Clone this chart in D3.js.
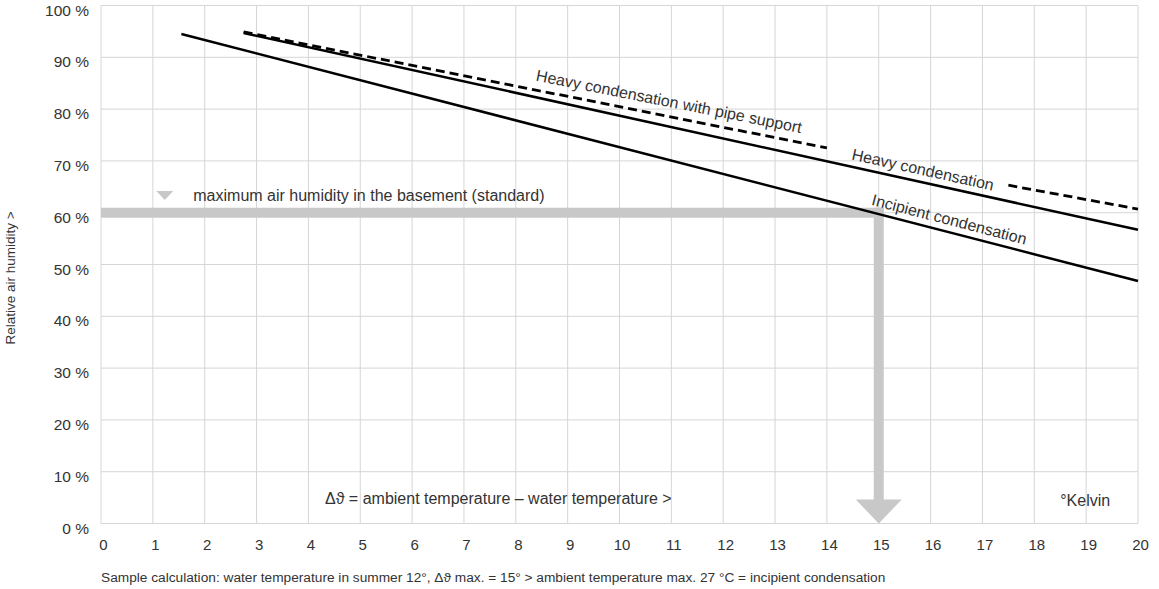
<!DOCTYPE html>
<html>
<head>
<meta charset="utf-8">
<script src="https://cdn.jsdelivr.net/npm/d3@7"></script>
<style>
  body { margin: 0; background: #fff; }
  svg text { font-family: "Liberation Sans", Arial, sans-serif; fill: #333; }
  .grid line { stroke: #d6d6d6; stroke-width: 1; }
</style>
</head>
<body>
<svg id="chart" width="1159" height="589"></svg>
<script>
// x ticks (Kelvin difference) and y ticks (relative humidity %)
var xTicks = d3.range(0, 21);
var yTicks = [0, 10, 20, 30, 40, 50, 60, 70, 80, 90, 100];

// lines: [delta T, humidity %]
var incipient = [[1.55, 94.5], [20, 46.8]];
var heavy = [[2.75, 94.7], [20, 56.7]];
var pipeSupport1 = [[2.75, 94.9], [14, 72.5]];
var pipeSupport2 = [[17.5, 65.3], [20, 60.7]];

// standard max humidity band and the resulting temperature difference
var standardHumidity = 60;
var sampleDelta = 15;

var svg = d3.select("#chart"),
    margin = {top: 5.5, right: 21, bottom: 65.5, left: 101},
    width = +svg.attr("width") - margin.left - margin.right,
    height = +svg.attr("height") - margin.top - margin.bottom;

var x = d3.scaleLinear().domain([0, 20]).range([0, width]),
    y = d3.scaleLinear().domain([0, 100]).range([height, 0]);

var g = svg.append("g")
    .attr("transform", "translate(" + margin.left + "," + margin.top + ")");

// grid
var grid = g.append("g").attr("class", "grid");
grid.selectAll(".v").data(xTicks).enter().append("line")
    .attr("x1", function(d) { return x(d); })
    .attr("x2", function(d) { return x(d); })
    .attr("y1", 0).attr("y2", height);
grid.selectAll(".h").data(yTicks).enter().append("line")
    .attr("y1", function(d) { return y(d); })
    .attr("y2", function(d) { return y(d); })
    .attr("x1", 0).attr("x2", width);

// axis labels
var xAxis = g.append("g")
    .attr("transform", "translate(0," + height + ")")
    .call(d3.axisBottom(x).tickValues(xTicks).tickSize(0).tickPadding(16));
xAxis.select(".domain").remove();
xAxis.selectAll("text").style("font-size", "15px").attr("fill", "#333")
    .attr("dx", 2);

var yAxis = g.append("g")
    .call(d3.axisLeft(y).tickValues(yTicks).tickSize(0).tickPadding(12)
      .tickFormat(function(d) { return d + " %"; }));
yAxis.select(".domain").remove();
yAxis.selectAll("text").style("font-size", "15.5px").attr("fill", "#333")
    .attr("dy", "0.62em");

// grey band: standard humidity -> arrow down to delta T
var bandColor = "#c8c8c8";
g.append("line")
    .attr("x1", x(0)).attr("x2", x(sampleDelta) + 5)
    .attr("y1", y(standardHumidity)).attr("y2", y(standardHumidity))
    .attr("stroke", bandColor).attr("stroke-width", 10);
g.append("line")
    .attr("x1", x(sampleDelta)).attr("x2", x(sampleDelta))
    .attr("y1", y(standardHumidity) - 5).attr("y2", y(0) - 22)
    .attr("stroke", bandColor).attr("stroke-width", 10);
g.append("path")
    .attr("d", "M" + (x(sampleDelta) - 23) + "," + (y(0) - 24) +
               "L" + (x(sampleDelta) + 23) + "," + (y(0) - 24) +
               "L" + x(sampleDelta) + "," + y(0) + "Z")
    .attr("fill", bandColor);

// legend marker for the band
g.append("path")
    .attr("d", "M" + (x(1.23) - 8.5) + "," + (y(63.3) - 4.5) +
               "L" + (x(1.23) + 8.5) + "," + (y(63.3) - 4.5) +
               "L" + x(1.23) + "," + (y(63.3) + 4.5) + "Z")
    .attr("fill", bandColor);
g.append("text")
    .attr("x", x(1.78)).attr("y", y(63.3) + 5.5)
    .style("font-size", "16px")
    .text("maximum air humidity in the basement (standard)");

// condensation lines
var line = d3.line()
    .x(function(d) { return x(d[0]); })
    .y(function(d) { return y(d[1]); });

[incipient, heavy].forEach(function(d) {
  g.append("path").datum(d)
      .attr("d", line)
      .attr("fill", "none")
      .attr("stroke", "#000")
      .attr("stroke-width", 2.5);
});
[pipeSupport1, pipeSupport2].forEach(function(d) {
  g.append("path").datum(d)
      .attr("d", line)
      .attr("fill", "none")
      .attr("stroke", "#000")
      .attr("stroke-width", 2.8)
      .attr("stroke-dasharray", "9,5");
});

// labels along the lines
function lineLabel(pts, atX, offset, txt) {
  var p0 = pts[0], p1 = pts[pts.length - 1];
  var ang = Math.atan2(y(p1[1]) - y(p0[1]), x(p1[0]) - x(p0[0])) * 180 / Math.PI;
  var v = p0[1] + (p1[1] - p0[1]) * (atX - p0[0]) / (p1[0] - p0[0]);
  g.append("text")
      .attr("transform", "translate(" + x(atX) + "," + y(v) + ") rotate(" + ang + ")")
      .attr("text-anchor", "middle")
      .attr("dy", -offset)
      .style("font-size", "16px")
      .text(txt);
}
lineLabel([pipeSupport1[0], pipeSupport2[1]], 10.9, 9, "Heavy condensation with pipe support");
lineLabel(heavy, 15.8, 7, "Heavy condensation");
lineLabel(incipient, 16.3, 7, "Incipient condensation");

// annotations inside the plot
g.append("text")
    .attr("x", x(4.32)).attr("y", y(0) - 20)
    .style("font-size", "16px")
    .text("\u0394\u03d1 = ambient temperature \u2013 water temperature >");
g.append("text")
    .attr("x", x(18.5)).attr("y", y(0) - 18)
    .style("font-size", "16px")
    .text("\u00b0Kelvin");

// axis title and footnote
svg.append("text")
    .attr("transform", "translate(15,278) rotate(-90)")
    .attr("text-anchor", "middle")
    .style("font-size", "13.5px")
    .text("Relative air humidity >");

svg.append("text")
    .attr("x", margin.left).attr("y", 582)
    .style("font-size", "13.7px")
    .text("Sample calculation: water temperature in summer 12\u00b0, \u0394\u03d1 max. = 15\u00b0 > ambient temperature max. 27 \u00b0C = incipient condensation");
</script>
</body>
</html>
